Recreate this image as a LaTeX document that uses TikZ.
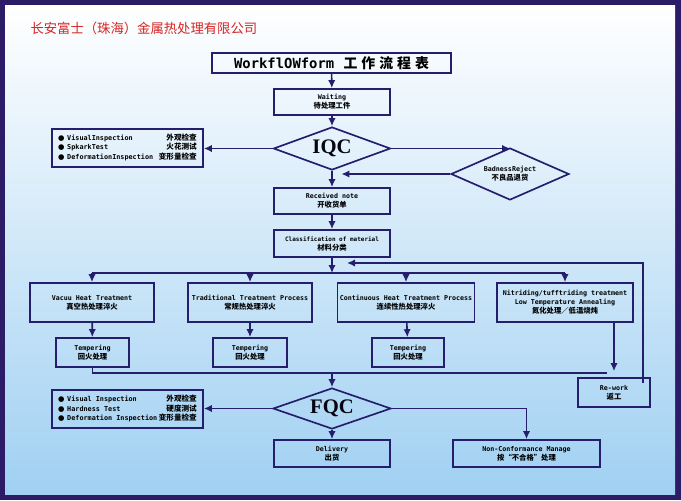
\documentclass[tikz,border=0pt]{standalone}
\usepackage{fontspec}
\setmonofont{DejaVu Sans Mono}
\newfontfamily\zhfont{Noto Sans CJK SC}
\newfontfamily\qcfont{Liberation Serif}
\newfontfamily\dotfont{DejaVu Sans}
\usetikzlibrary{shapes.geometric,arrows.meta}
\definecolor{navy}{RGB}{36,30,108}
\definecolor{framecol}{RGB}{44,28,104}
\definecolor{skyblue}{RGB}{160,208,242}
\definecolor{titlered}{RGB}{214,36,36}
\newcommand\zh[1]{{\zhfont\bfseries\fontsize{5.5}{6.8}\selectfont #1}}
\newcommand\qrow[2]{{\dotfont\fontsize{5.5}{6.4}\selectfont ●} & #1 & {\zhfont\bfseries\fontsize{5.7}{6.4}\selectfont #2}\\}
\tikzset{every picture/.style={line width=0.75pt},
  flowbox/.style={draw=navy, line width=1.25pt, inner sep=0pt, align=center, font=\ttfamily\bfseries\fontsize{5}{6.8}\selectfont},
  listbox/.style={flowbox, minimum width=113.25pt, minimum height=28.5pt, font=\ttfamily\bfseries\fontsize{5.1}{6.4}\selectfont},
  qcdiamond/.style={diamond, draw=navy, line width=1.25pt, inner sep=0pt, aspect=2.7, font=\qcfont\bfseries\fontsize{15.5}{16}\selectfont, text=black!85!navy},
  flow/.style={draw=navy, line width=1.2pt, -{Latex[length=6pt,width=5.5pt]}},
  link/.style={draw=navy, line width=1.2pt}}

\begin{document}
\begin{tikzpicture}[x=0.75pt,y=0.75pt,yscale=-1,xscale=1]
\useasboundingbox (0,0) rectangle (681,500);
%Frame and background
\fill[framecol] (0,0) rectangle (681,500);
\shade[top color=white, bottom color=skyblue] (5,5) rectangle (675,494);
% Text Node
\node[text=titlered, anchor=west, inner sep=0pt, font=\zhfont\fontsize{10}{12}\selectfont] (firm) at (30,28) {长安富士（珠海）金属热处理有限公司};
%Boxes
\node[flowbox, minimum width=179pt, minimum height=15pt, font=\ttfamily\bfseries\fontsize{10.4}{12}\selectfont] (head) at (331.5,63) {WorkflOWform\hspace{7pt}{\zhfont\bfseries 工\hspace{3pt}作\hspace{3pt}流\hspace{3pt}程\hspace{3pt}表}};
\node[flowbox, minimum width=87pt, minimum height=19.5pt] (wait) at (332,102) {Waiting\\\zh{待处理工件}};
\node[qcdiamond, minimum width=87.75pt, minimum height=32.25pt] (iqc) at (332,148.5) {IQC};
\node[listbox] (iqclist) at (127.5,148) {\begin{tabular*}{104pt}{@{}l@{\hspace{2pt}}l@{\extracolsep{\fill}}r@{}}
\qrow{VisualInspection}{外观检查}
\qrow{SpkarkTest}{火花测试}
\qrow{DeformationInspection}{变形量检查}
\end{tabular*}};
\node[diamond, flowbox, aspect=2.27, minimum width=88.5pt, minimum height=39pt] (bad) at (510,174) {BadnessReject\\\zh{不良品退货}};
\node[flowbox, minimum width=87pt, minimum height=19.5pt] (recv) at (332,201) {Received note\\\zh{开收货单}};
\node[flowbox, minimum width=87pt, minimum height=20.25pt, font=\ttfamily\bfseries\fontsize{4.5}{6.8}\selectfont] (cls) at (332,243.5) {Classification of material\\\zh{材料分类}};
\node[flowbox, minimum width=93pt, minimum height=29.25pt] (vac) at (92,302.5) {Vacuu Heat Treatment\\\zh{真空热处理淬火}};
\node[flowbox, minimum width=93pt, minimum height=29.25pt] (trad) at (250,302.5) {Traditional Treatment Process\\\zh{常规热处理淬火}};
\node[flowbox, minimum width=102.75pt, minimum height=29.25pt] (cont) at (406,302.5) {Continuous Heat Treatment Process\\\zh{连续性热处理淬火}};
\node[flowbox, minimum width=102pt, minimum height=29.25pt] (nit) at (565,302.5) {Nitriding/tufftriding treatment\\Low Temperature Annealing\\\zh{氮化处理／低温烧炖}};
\node[flowbox, minimum width=54.75pt, minimum height=21.75pt] (temp1) at (92.5,352.5) {Tempering\\\zh{回火处理}};
\node[flowbox, minimum width=55.5pt, minimum height=21.75pt] (temp2) at (250,352.5) {Tempering\\\zh{回火处理}};
\node[flowbox, minimum width=54pt, minimum height=21.75pt] (temp3) at (408,352.5) {Tempering\\\zh{回火处理}};
\node[flowbox, minimum width=54pt, minimum height=21.75pt] (rework) at (614,392.5) {Re-work\\\zh{返工}};
\node[qcdiamond, minimum width=88.5pt, minimum height=30.75pt] (fqc) at (332,408.5) {FQC};
\node[listbox] (fqclist) at (127.5,409) {\begin{tabular*}{104pt}{@{}l@{\hspace{2pt}}l@{\extracolsep{\fill}}r@{}}
\qrow{Visual Inspection}{外观检查}
\qrow{Hardness Test}{硬度测试}
\qrow{Deformation Inspection}{变形量检查}
\end{tabular*}};
\node[flowbox, minimum width=87pt, minimum height=20.25pt] (deliv) at (332,453.5) {Delivery\\\zh{出货}};
\node[flowbox, minimum width=110.25pt, minimum height=20.25pt] (ncm) at (526.5,453.5) {Non-Conformance Manage\\\zh{按“不合格”处理}};
%Connectors
\coordinate (bus) at (332,273);
\coordinate (back) at (347,263);
\coordinate (merge) at (607,373);
\draw[flow] (head) -- (wait);
\draw[flow] (wait) -- (iqc);
\draw[flow] (iqc.west) -- (iqc.west -| iqclist.east);
\draw[flow] (iqc.east) -- (iqc.east -| bad.north);
\draw[flow, shorten >=7pt] (bad.west) -- (bad.west -| iqc.south);
\draw[flow] (iqc) -- (recv);
\draw[flow] (recv) -- (cls);
\draw[flow] (cls) -- (bus);
\draw[link] (vac.north |- bus) -- (nit.north |- bus);
\foreach \b in {vac,trad,cont,nit}
  \draw[flow] (\b.north |- bus) -- (\b.north);
\draw[flow] (vac) -- (temp1);
\draw[flow] (trad) -- (temp2);
\draw[flow] (cont) -- (temp3);
\draw[flow, shorten >=4.5pt] (rework.north |- nit.south) -- (rework.north);
\draw[flow] ([xshift=-6pt,yshift=4.5pt]rework.north east) |- (back);
\draw[link] (temp1) |- (merge);
\draw[flow] (fqc.north |- merge) -- (fqc);
\draw[flow] (fqc.west) -- (fqc.west -| fqclist.east);
\draw[flow] (fqc) -- (deliv);
\draw[flow] (fqc.east) -| (ncm);
\end{tikzpicture}
\end{document}
